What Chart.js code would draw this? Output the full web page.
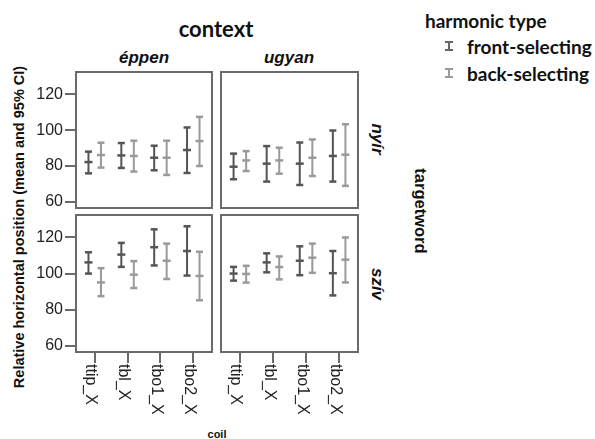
<!DOCTYPE html>
<html>
<head>
<meta charset="utf-8">
<script src="https://cdn.jsdelivr.net/npm/chart.js@4.4.1/dist/chart.umd.min.js"></script>
<style>
  body { margin: 0; background: #fff; }
  #wrap { position: relative; width: 595px; height: 439px; overflow: hidden; font-family: "Liberation Sans", Arial, sans-serif; color: #111; }
  .box { position: absolute; }
  .t { position: absolute; white-space: nowrap; line-height: 1; }
  .strip { font-weight: bold; font-style: italic; font-size: 17px; transform: translate(-50%, -50%); }
  .vert { transform: translate(-50%, -50%) rotate(90deg); }
  .lg { font-family: Lato, sans-serif; font-weight: bold; font-size: 19px; }
  .mark { position: absolute; width: 8px; height: 10px; box-sizing: border-box; border-top: 2px solid; border-bottom: 2px solid; }
  .mark:after { content: ""; position: absolute; left: 3px; top: 0; width: 2px; height: 6px; background: currentColor; }
</style>
</head>
<body>
<div id="wrap">
  <div class="t" style="left:216px;top:29px;transform:translate(-50%,-50%);font-family:Lato,sans-serif;font-weight:bold;font-size:22px;">context</div>
  <div class="t strip" style="left:144px;top:57px;">éppen</div>
  <div class="t strip" style="left:289px;top:57px;">ugyan</div>
  <div class="t strip vert" style="left:377px;top:139px;">nyír</div>
  <div class="t strip vert" style="left:377px;top:284px;">szív</div>
  <div class="t vert" style="left:421px;top:211px;font-weight:bold;font-size:16.5px;">targetword</div>
  <div class="t" style="left:19px;top:227px;transform:translate(-50%,-50%) rotate(-90deg);font-weight:bold;font-size:14.5px;">Relative horizontal position (mean and 95% CI)</div>
  <div class="t" style="left:217px;top:434px;transform:translate(-50%,-50%);font-weight:bold;font-size:11px;">coil</div>

  <div class="t lg" style="left:425px;top:11px;">harmonic type</div>
  <div class="mark" style="left:445px;top:41px;color:#666;"></div>
  <div class="t lg" style="left:467px;top:37px;">front-selecting</div>
  <div class="mark" style="left:445px;top:68px;color:#9a9a9a;"></div>
  <div class="t lg" style="left:467px;top:64px;">back-selecting</div>

  <div class="box" style="left:35px;top:71px;width:178px;height:138px;"><canvas id="tl"></canvas></div>
  <div class="box" style="left:220px;top:71px;width:139px;height:138px;"><canvas id="tr"></canvas></div>
  <div class="box" style="left:35px;top:214px;width:178px;height:211px;"><canvas id="bl"></canvas></div>
  <div class="box" style="left:220px;top:214px;width:139px;height:211px;"><canvas id="br"></canvas></div>
</div>
<script>
'use strict';

var coils = ['ttip_X', 'tbl_X', 'tbo1_X', 'tbo2_X'];
var harmonicTypes = ['front-selecting', 'back-selecting'];
var yTicks = [60, 80, 100, 120];

// éppen / nyír
var eppenNyirFrontMean = [82.2, 85.9, 84.6, 88.9];
var eppenNyirFrontLow = [75.9, 78.9, 77.6, 76.1];
var eppenNyirFrontHigh = [88.0, 92.8, 91.3, 101.5];
var eppenNyirBackMean = [86.1, 85.6, 84.6, 93.9];
var eppenNyirBackLow = [79.1, 76.9, 75.0, 80.0];
var eppenNyirBackHigh = [93.0, 94.1, 94.1, 107.4];

// ugyan / nyír
var ugyanNyirFrontMean = [79.6, 81.3, 81.3, 85.6];
var ugyanNyirFrontLow = [72.6, 71.3, 69.4, 71.3];
var ugyanNyirFrontHigh = [86.9, 91.1, 93.1, 99.8];
var ugyanNyirBackMean = [83.1, 83.1, 84.6, 86.3];
var ugyanNyirBackLow = [77.2, 75.7, 74.4, 68.9];
var ugyanNyirBackHigh = [88.3, 90.2, 94.8, 103.3];

// éppen / szív
var eppenSzivFrontMean = [106.2, 110.5, 114.6, 112.5];
var eppenSzivFrontLow = [100.0, 103.7, 104.5, 98.9];
var eppenSzivFrontHigh = [111.8, 117.0, 124.5, 126.2];
var eppenSzivBackMean = [95.1, 99.4, 107.1, 98.7];
var eppenSzivBackLow = [87.5, 92.0, 97.0, 85.2];
var eppenSzivBackHigh = [103.0, 106.9, 116.6, 112.1];

// ugyan / szív
var ugyanSzivFrontMean = [100.0, 106.2, 107.1, 100.2];
var ugyanSzivFrontLow = [96.1, 100.7, 99.1, 87.9];
var ugyanSzivFrontHigh = [103.7, 111.2, 115.1, 112.5];
var ugyanSzivBackMean = [99.8, 103.6, 108.8, 107.7];
var ugyanSzivBackLow = [95.0, 96.8, 100.4, 95.1];
var ugyanSzivBackHigh = [104.3, 109.5, 116.6, 120.0];

var frontColor = '#555555';
var backColor = '#9a9a9a';
var frameColor = '#6a6a6a';

function errorSets(mean, low, high, off, color) {
  var whisk = [], caps = [], means = [];
  for (var i = 0; i < coils.length; i++) {
    whisk.push({x: i + off, y: low[i]}, {x: i + off, y: high[i]}, {x: i + off, y: null});
    caps.push({x: i + off, y: low[i]}, {x: i + off, y: high[i]});
    means.push({x: i + off, y: mean[i]});
  }
  return [
    {data: whisk, showLine: true, spanGaps: false, borderColor: color, borderWidth: 2, pointRadius: 0},
    {data: caps, pointStyle: 'line', pointRadius: 3.5, borderColor: color, borderWidth: 2.5},
    {data: means, pointStyle: 'line', pointRadius: 4, borderColor: color, borderWidth: 2.5}
  ];
}

var framePlugin = {
  id: 'frame',
  afterDraw: function(chart) {
    var a = chart.chartArea, ctx = chart.ctx;
    ctx.save();
    ctx.strokeStyle = frameColor;
    ctx.lineWidth = 2;
    ctx.strokeRect(a.left + 1, a.top + 1, a.right - a.left - 2, a.bottom - a.top - 2);
    ctx.restore();
  }
};

var coilLabelPlugin = {
  id: 'coilLabels',
  afterDraw: function(chart) {
    if (!chart.options.scales.x.display) return;
    var ctx = chart.ctx, xs = chart.scales.x, bottom = chart.chartArea.bottom;
    ctx.save();
    ctx.font = '16px "Liberation Sans", Arial, sans-serif';
    ctx.fillStyle = '#222';
    ctx.textAlign = 'left';
    ctx.textBaseline = 'middle';
    for (var i = 0; i < coils.length; i++) {
      ctx.save();
      ctx.translate(xs.getPixelForValue(i) - 4, bottom + 11);
      ctx.rotate(Math.PI / 2);
      ctx.fillText(coils[i], 0, 0);
      ctx.restore();
    }
    ctx.restore();
  }
};

function makePanel(id, front, back, showY, showX) {
  var sets = errorSets(front[0], front[1], front[2], -0.19, frontColor)
    .concat(errorSets(back[0], back[1], back[2], 0.19, backColor));
  return new Chart(document.getElementById(id), {
    type: 'scatter',
    data: {datasets: sets},
    options: {
      responsive: true,
      maintainAspectRatio: false,
      animation: false,
      layout: {padding: 0, autoPadding: false},
      plugins: {legend: {display: false}, tooltip: {enabled: false}},
      scales: {
        x: {
          type: 'linear', min: -0.6, max: 3.6, display: showX,
          afterBuildTicks: function(s) { s.ticks = coils.map(function(c, i) { return {value: i}; }); },
          grid: {drawOnChartArea: false, drawTicks: true, tickLength: 10, color: frameColor, lineWidth: 2},
          border: {display: false},
          ticks: {display: false},
          afterFit: function(s) {
            s.paddingLeft = 0; s.paddingRight = 0; s.paddingTop = 0; s.paddingBottom = 0;
            s.height = showX ? 72 : 0;
          }
        },
        y: {
          min: 56, max: 133, display: showY,
          afterBuildTicks: function(s) { s.ticks = yTicks.map(function(v) { return {value: v}; }); },
          grid: {drawOnChartArea: false, drawTicks: true, tickLength: 10, color: frameColor, lineWidth: 2},
          border: {display: false},
          ticks: {font: {family: '"Liberation Sans", Arial, sans-serif', size: 16}, color: '#222', padding: 2},
          afterFit: function(s) {
            s.paddingLeft = 0; s.paddingRight = 0; s.paddingTop = 0; s.paddingBottom = 0;
            s.width = showY ? 40 : 0;
          }
        }
      }
    },
    plugins: [framePlugin, coilLabelPlugin]
  });
}

makePanel('tl', [eppenNyirFrontMean, eppenNyirFrontLow, eppenNyirFrontHigh], [eppenNyirBackMean, eppenNyirBackLow, eppenNyirBackHigh], true, false);
makePanel('tr', [ugyanNyirFrontMean, ugyanNyirFrontLow, ugyanNyirFrontHigh], [ugyanNyirBackMean, ugyanNyirBackLow, ugyanNyirBackHigh], false, false);
makePanel('bl', [eppenSzivFrontMean, eppenSzivFrontLow, eppenSzivFrontHigh], [eppenSzivBackMean, eppenSzivBackLow, eppenSzivBackHigh], true, true);
makePanel('br', [ugyanSzivFrontMean, ugyanSzivFrontLow, ugyanSzivFrontHigh], [ugyanSzivBackMean, ugyanSzivBackLow, ugyanSzivBackHigh], false, true);
</script>
</body>
</html>
